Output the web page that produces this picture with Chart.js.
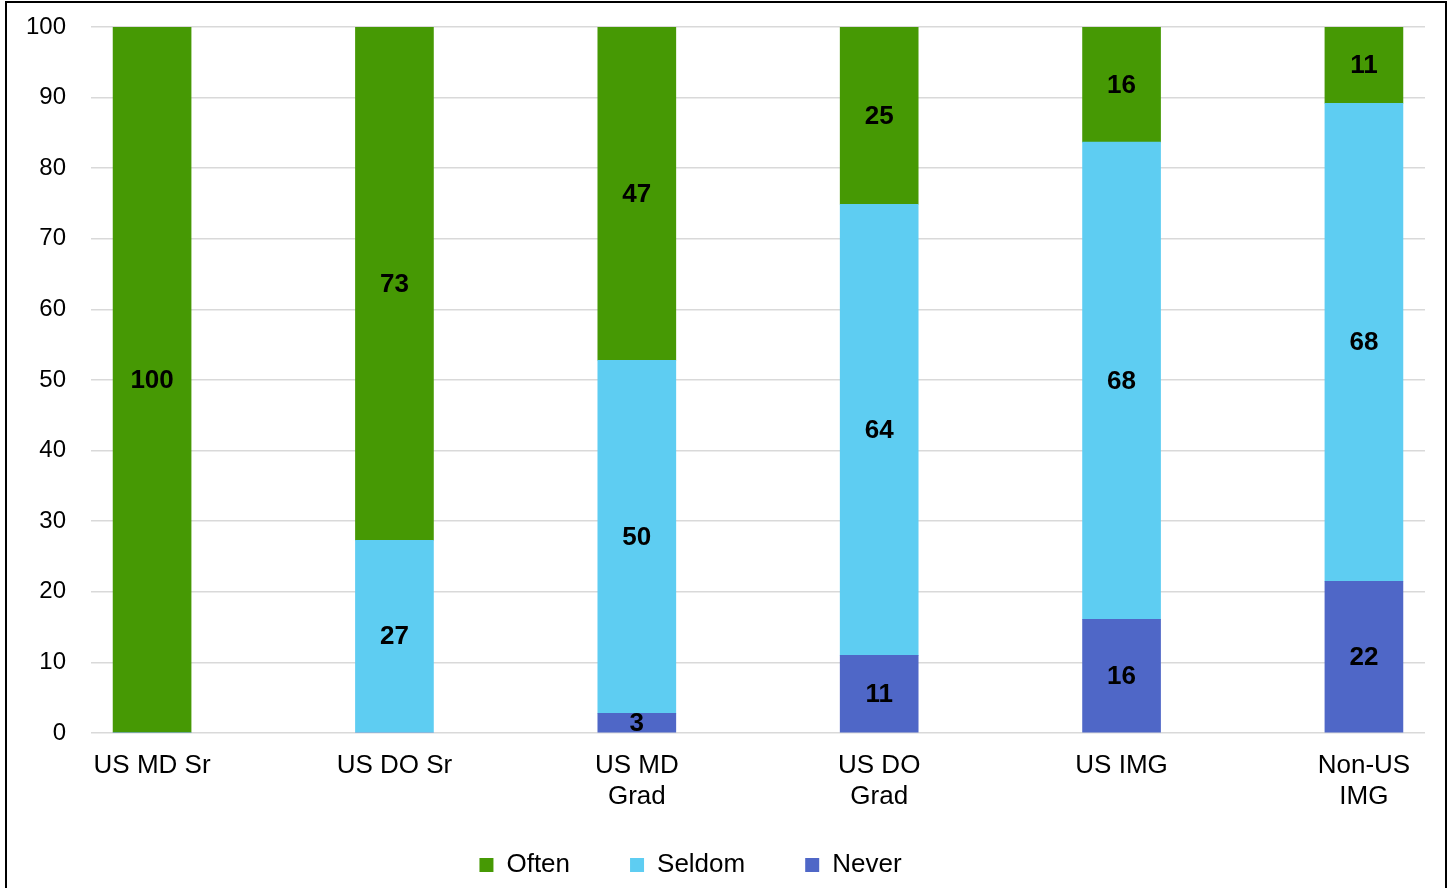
<!DOCTYPE html>
<html>
<head>
<meta charset="utf-8">
<script src="https://cdn.jsdelivr.net/npm/chart.js@4"></script>
<style>
  html, body { margin: 0; padding: 0; background: #fff; overflow: hidden; }
  #frame { position: absolute; left: 5px; top: 1px; width: 1438px; height: 1000px; border: 2px solid #000; }
  #wrap { position: absolute; left: 0; top: 0; width: 1452px; height: 888px; }
</style>
</head>
<body>
<div id="frame"></div>
<div id="wrap"><canvas id="chart"></canvas></div>
<script>
const categories = ['US MD Sr', 'US DO Sr', ['US MD', 'Grad'], ['US DO', 'Grad'], 'US IMG', ['Non-US', 'IMG']]
const neverValues = [0, 0, 2.8, 11.0, 16.1, 21.5]
const seldomValues = [0, 27.3, 50.0, 63.9, 67.6, 67.7]
const oftenValues = [100, 72.7, 47.2, 25.1, 16.3, 10.8]

const FONT = "'Liberation Sans', Arial, sans-serif"

// points on the linear x axis, one per category
const toPoints = values => values.map((v, i) => ({ x: i, y: v }))

// value labels in the middle of each segment
const segmentLabels = {
  id: 'segmentLabels',
  afterDatasetsDraw(chart) {
    const ctx = chart.ctx
    ctx.save()
    ctx.font = 'bold 26px ' + FONT
    ctx.fillStyle = '#000'
    ctx.textAlign = 'center'
    ctx.textBaseline = 'middle'
    chart.data.datasets.forEach((ds, di) => {
      chart.getDatasetMeta(di).data.forEach((bar, i) => {
        const v = Math.round(ds.data[i].y)
        if (!v) return
        const p = bar.getProps(['x', 'y', 'base'], true)
        ctx.fillText(String(v), p.x, (p.y + p.base) / 2 + 1)
      })
    })
    ctx.restore()
  }
}

// move the legend up a little and a bit to the left, like the original
const legendShift = {
  id: 'legendShift',
  afterLayout(chart) {
    const lg = chart.legend
    if (!lg) return
    lg.top -= 26
    lg.right -= 44
  }
}

const ctx = document.getElementById('chart').getContext('2d')
new Chart(ctx, {
  type: 'bar',
  data: {
    datasets: [
      { label: 'Never', data: toPoints(neverValues), backgroundColor: '#4F67C7' },
      { label: 'Seldom', data: toPoints(seldomValues), backgroundColor: '#5ECDF2' },
      { label: 'Often', data: toPoints(oftenValues), backgroundColor: '#469904' }
    ]
  },
  plugins: [segmentLabels, legendShift],
  options: {
    responsive: true,
    maintainAspectRatio: false,
    animation: false,
    barThickness: 78,
    borderWidth: 0,
    layout: { padding: { top: 27, right: 27, bottom: 0, left: 0 } },
    scales: {
      x: {
        type: 'linear',
        stacked: true,
        offset: false,
        min: -0.252,
        max: 5.252,
        grid: { display: false },
        border: { display: false },
        afterFit: scale => { scale.height = 85 },
        ticks: {
          stepSize: 1,
          includeBounds: false,
          autoSkip: false,
          maxRotation: 0,
          padding: 9,
          color: '#000',
          font: { family: FONT, size: 26, lineHeight: 1.2 },
          callback: value => categories[value] ?? ''
        }
      },
      y: {
        stacked: true,
        min: 0,
        max: 100,
        grid: { color: '#d9d9d9', lineWidth: 1.5, drawTicks: false },
        border: { display: false },
        afterFit: scale => {
          scale.width = 91
          scale.paddingTop = 0
          scale.paddingBottom = 0
        },
        ticks: {
          stepSize: 10,
          padding: 25,
          color: '#000',
          font: { family: FONT, size: 24 }
        }
      }
    },
    plugins: {
      legend: {
        position: 'bottom',
        reverse: true,
        maxHeight: 70,
        labels: {
          boxWidth: 14,
          boxHeight: 14,
          padding: 60,
          color: '#000',
          font: { family: FONT, size: 26 }
        }
      },
      tooltip: { enabled: false }
    }
  }
})
</script>
</body>
</html>
